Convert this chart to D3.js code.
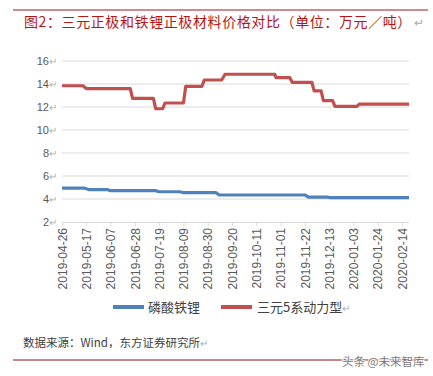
<!DOCTYPE html>
<html>
<head>
<meta charset="utf-8">
<script src="https://cdn.jsdelivr.net/npm/d3@7"></script>
<style>
  body { margin: 0; background: #fff; }
  svg { display: block; }
  text { font-family: "Liberation Sans", Arial, "Noto Sans CJK SC", sans-serif; }
  .cjk { font-family: "Noto Sans CJK SC", sans-serif; }
</style>
</head>
<body>
<div id="chart"></div>
<script>
// step points: [date, value]
const ternaryData = [
    ["2019-04-26", 13.85], ["2019-05-14", 13.85], ["2019-05-17", 13.6],
    ["2019-06-24", 13.6], ["2019-06-26", 12.75], ["2019-07-14", 12.75],
    ["2019-07-16", 11.85], ["2019-07-22", 11.85], ["2019-07-24", 12.35],
    ["2019-08-09", 12.35], ["2019-08-11", 13.8], ["2019-08-25", 13.8],
    ["2019-08-27", 14.35], ["2019-09-11", 14.35], ["2019-09-14", 14.85],
    ["2019-10-27", 14.85], ["2019-10-28", 14.55], ["2019-11-09", 14.55],
    ["2019-11-11", 14.15], ["2019-11-28", 14.15], ["2019-11-30", 13.4],
    ["2019-12-06", 13.4], ["2019-12-08", 12.55], ["2019-12-16", 12.55],
    ["2019-12-18", 12.05], ["2020-01-06", 12.05], ["2020-01-08", 12.25],
    ["2020-02-20", 12.25]
];
const lfpData = [
    ["2019-04-26", 4.95], ["2019-05-15", 4.95], ["2019-05-19", 4.82],
    ["2019-06-04", 4.82], ["2019-06-07", 4.72], ["2019-07-16", 4.72],
    ["2019-07-19", 4.63], ["2019-08-06", 4.63], ["2019-08-09", 4.55],
    ["2019-09-06", 4.55], ["2019-09-09", 4.35], ["2019-11-22", 4.35],
    ["2019-11-25", 4.17], ["2019-12-11", 4.17], ["2019-12-14", 4.12],
    ["2020-02-20", 4.12]
];
const tickDates = ["2019-04-26", "2019-05-17", "2019-06-07", "2019-06-28", "2019-07-19",
    "2019-08-09", "2019-08-30", "2019-09-20", "2019-10-11", "2019-11-01", "2019-11-22",
    "2019-12-13", "2020-01-03", "2020-01-24", "2020-02-14"];
const yTicks = [2, 4, 6, 8, 10, 12, 14, 16];
const seriesNames = ["磷酸铁锂", "三元5系动力型"];
const colors = ["#4f81bd", "#c0504d"];

const W = 433, H = 376;
const parse = d3.timeParse("%Y-%m-%d");

const svg = d3.select("#chart").append("svg")
    .attr("width", W).attr("height", H);

// top rule and title
svg.append("line").attr("x1", 13).attr("x2", 428).attr("y1", 10).attr("y2", 10)
    .attr("stroke", "#a01818").attr("stroke-width", 1);
const title = svg.append("text").attr("class", "cjk")
    .attr("x", 24).attr("y", 27)
    .attr("font-size", "14px").attr("fill", "#b81414")
    .attr("letter-spacing", "0.6px");
title.append("tspan").text("图2：三元正极和铁锂正极材料价格对比（单位：万元／吨）");
title.append("tspan").attr("fill", "#aaa").attr("font-size", "12px").attr("dx", 2).text("↵");

// scales
const x = d3.scaleTime()
    .domain([parse("2019-04-26"), parse("2020-02-20")])
    .range([62, 409]);
const y = d3.scaleLinear().domain([2, 16]).range([222, 61]);

// gridlines
svg.append("g").selectAll("line").data(yTicks.slice(1)).join("line")
    .attr("x1", 62).attr("x2", 409)
    .attr("y1", d => y(d)).attr("y2", d => y(d))
    .attr("stroke", "#d9d9d9").attr("stroke-width", 1);

// y labels
svg.append("g").selectAll("text").data(yTicks).join("text")
    .attr("x", 49).attr("y", d => y(d) + 4)
    .attr("text-anchor", "end")
    .attr("font-size", "11px").attr("fill", "#595959")
    .text(d => d);
svg.append("g").selectAll("text").data(yTicks).join("text")
    .attr("x", 49).attr("y", d => y(d) + 4)
    .attr("font-size", "10px").attr("fill", "#b0b0b0")
    .text("↵");

// x axis
const xAxis = d3.axisBottom(x)
    .tickValues(tickDates.map(parse))
    .tickFormat(d3.timeFormat("%Y-%m-%d"))
    .tickSize(4);
const gx = svg.append("g").attr("transform", "translate(0,222)").call(xAxis);
gx.select(".domain").attr("stroke", "#d9d9d9").attr("d", "M62,0.5H409");
gx.selectAll(".tick line").attr("stroke", "#d9d9d9");
gx.selectAll(".tick text")
    .attr("transform", "rotate(-90)")
    .attr("text-anchor", "end")
    .attr("x", -6).attr("y", 0).attr("dy", "0.35em")
    .attr("font-size", "12px")
    .attr("font-family", "Liberation Sans, Arial, sans-serif")
    .attr("fill", "#595959");

// lines
const line = d3.line()
    .x(d => x(parse(d[0])))
    .y(d => y(d[1]));

[lfpData, ternaryData].forEach((data, i) => {
    svg.append("path")
        .datum(data)
        .attr("fill", "none")
        .attr("stroke", colors[i])
        .attr("stroke-width", 3.2)
        .attr("stroke-linejoin", "round")
        .attr("d", line);
});

// legend
const legendItems = [
    { x1: 113, x2: 144, tx: 148 },
    { x1: 221, x2: 252, tx: 257 }
];
legendItems.forEach((it, i) => {
    svg.append("line")
        .attr("x1", it.x1).attr("x2", it.x2).attr("y1", 307).attr("y2", 307)
        .attr("stroke", colors[i]).attr("stroke-width", 4);
    const t = svg.append("text").attr("class", "cjk")
        .attr("x", it.tx).attr("y", 312)
        .attr("font-size", "13px").attr("fill", "#404040");
    t.append("tspan").text(seriesNames[i]);
    if (i === 1) t.append("tspan").attr("fill", "#aaa").attr("font-size", "10px").text("↵");
});

// source note
const src = svg.append("text").attr("class", "cjk")
    .attr("x", 23).attr("y", 347)
    .attr("font-size", "11.5px").attr("fill", "#404040");
src.append("tspan").text("数据来源：Wind，东方证券研究所");
src.append("tspan").attr("fill", "#aaa").attr("font-size", "10px").text("↵");

// bottom rule and watermark
svg.append("line").attr("x1", 13).attr("x2", 428).attr("y1", 360).attr("y2", 360)
    .attr("stroke", "#8b1010").attr("stroke-width", 1);
svg.append("text").attr("class", "cjk")
    .attr("x", 342).attr("y", 366)
    .attr("font-size", "11.5px").attr("fill", "#666")
    .attr("stroke", "#fff").attr("stroke-width", 2).attr("paint-order", "stroke")
    .attr("opacity", 0.85)
    .text("头条 @未来智库");
</script>
</body>
</html>
